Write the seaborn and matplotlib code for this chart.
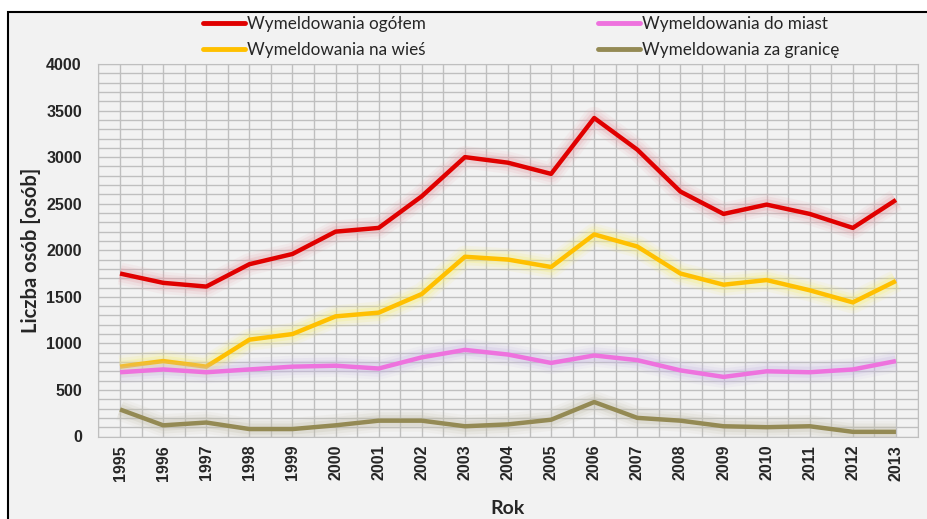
import numpy as np
import pandas as pd
import matplotlib
matplotlib.use("Agg")
import matplotlib.pyplot as plt
import matplotlib.patheffects as pe
from matplotlib.patches import Rectangle
import seaborn as sns

# dane
lata = [str(r) for r in range(1995, 2014)]
ogolem = [1750, 1650, 1610, 1850, 1960, 2200, 2240, 2580, 3000, 2940,
          2820, 3420, 3080, 2630, 2390, 2490, 2390, 2240, 2540]
na_wies = [750, 810, 750, 1040, 1100, 1290, 1330, 1530, 1930, 1900,
           1820, 2170, 2040, 1750, 1630, 1680, 1570, 1440, 1670]
do_miast = [690, 720, 690, 720, 750, 760, 730, 850, 930, 880,
            790, 870, 820, 710, 640, 700, 690, 720, 810]
za_granice = [290, 120, 150, 80, 80, 120, 170, 170, 110, 130,
              180, 370, 200, 170, 110, 100, 110, 50, 50]

serie = ["Wymeldowania ogółem", "Wymeldowania na wieś",
         "Wymeldowania do miast", "Wymeldowania za granicę"]
kolory = ["#E00000", "#FFC000", "#EE72DE", "#948A54"]
poswiata = ["#E8A0A8", "#F8F070", "#C8B8E4", "#C4C0AC"]

df = pd.DataFrame({
    "Rok": lata * 4,
    "Liczba": ogolem + na_wies + do_miast + za_granice,
    "Seria": np.repeat(serie, len(lata)),
})

sns.set_style("white")
plt.rcParams["font.family"] = ["Lato", "DejaVu Sans"]

fig = plt.figure(figsize=(9.28, 5.19), dpi=100, facecolor="white")
fig.patches.append(Rectangle((8 / 928, -0.1), 1.1, (519 - 12) / 519 + 0.1,
                             transform=fig.transFigure, facecolor="#F2F2F2",
                             edgecolor="black", linewidth=1.5, zorder=-10))
ax = fig.add_axes([98.5 / 928, 1 - 436.5 / 519, 819 / 928, 372.5 / 519])
ax.set_facecolor("#F2F2F2")

sns.lineplot(data=df, x="Rok", y="Liczba", hue="Seria", hue_order=serie,
             palette=kolory, linewidth=3.2, ax=ax, legend=False, sort=False)

# poświata wokół linii jak w Excelu
for line, glow in zip(ax.get_lines(), poswiata):
    line.set_solid_capstyle("butt")
    line.set_path_effects([
        pe.Stroke(linewidth=16, foreground=glow, alpha=0.10),
        pe.Stroke(linewidth=12, foreground=glow, alpha=0.15),
        pe.Stroke(linewidth=8, foreground=glow, alpha=0.25),
        pe.Normal(),
    ])

ax.set_xlim(-0.5, len(lata) - 0.5)
ax.set_ylim(0, 4000)
ax.set_yticks(np.arange(0, 4001, 500))
ax.set_yticks(np.arange(0, 4001, 100), minor=True)
ax.set_xticks(range(len(lata)))
ax.set_xticks(np.arange(-0.5, len(lata), 1), minor=True)
ax.set_xticklabels(lata, rotation=90)
ax.set_yticklabels([str(v) for v in range(0, 4001, 500)])
for lab in ax.get_xticklabels() + ax.get_yticklabels():
    lab.set_family(["Liberation Sans", "DejaVu Sans"])
    lab.set_fontweight("bold")
    lab.set_fontsize(11.5)
ax.tick_params(which="both", length=0)
ax.tick_params(axis="y", pad=12)
ax.tick_params(axis="x", pad=6)
ax.grid(True, which="both", color="#BFBFBF", linewidth=1)
ax.set_axisbelow(True)
for s in ax.spines.values():
    s.set_color("#BFBFBF")

ax.set_xlabel("Rok", fontsize=14, fontweight="bold", labelpad=14)
ax.set_ylabel("Liczba osób [osób]", fontsize=14.5, fontweight="bold", labelpad=4)

handles = [plt.Line2D([], [], color=c, linewidth=3.5) for c in kolory]
fig.legend(handles, serie, loc="upper left", bbox_to_anchor=(191 / 928, 1 - 4 / 519),
           ncol=2, frameon=False, fontsize=12.3, handlelength=2.45,
           handletextpad=0.12, columnspacing=10.1, labelspacing=0.6,
           borderpad=0.2)

fig.savefig("out.png", dpi=100, facecolor=fig.get_facecolor())
